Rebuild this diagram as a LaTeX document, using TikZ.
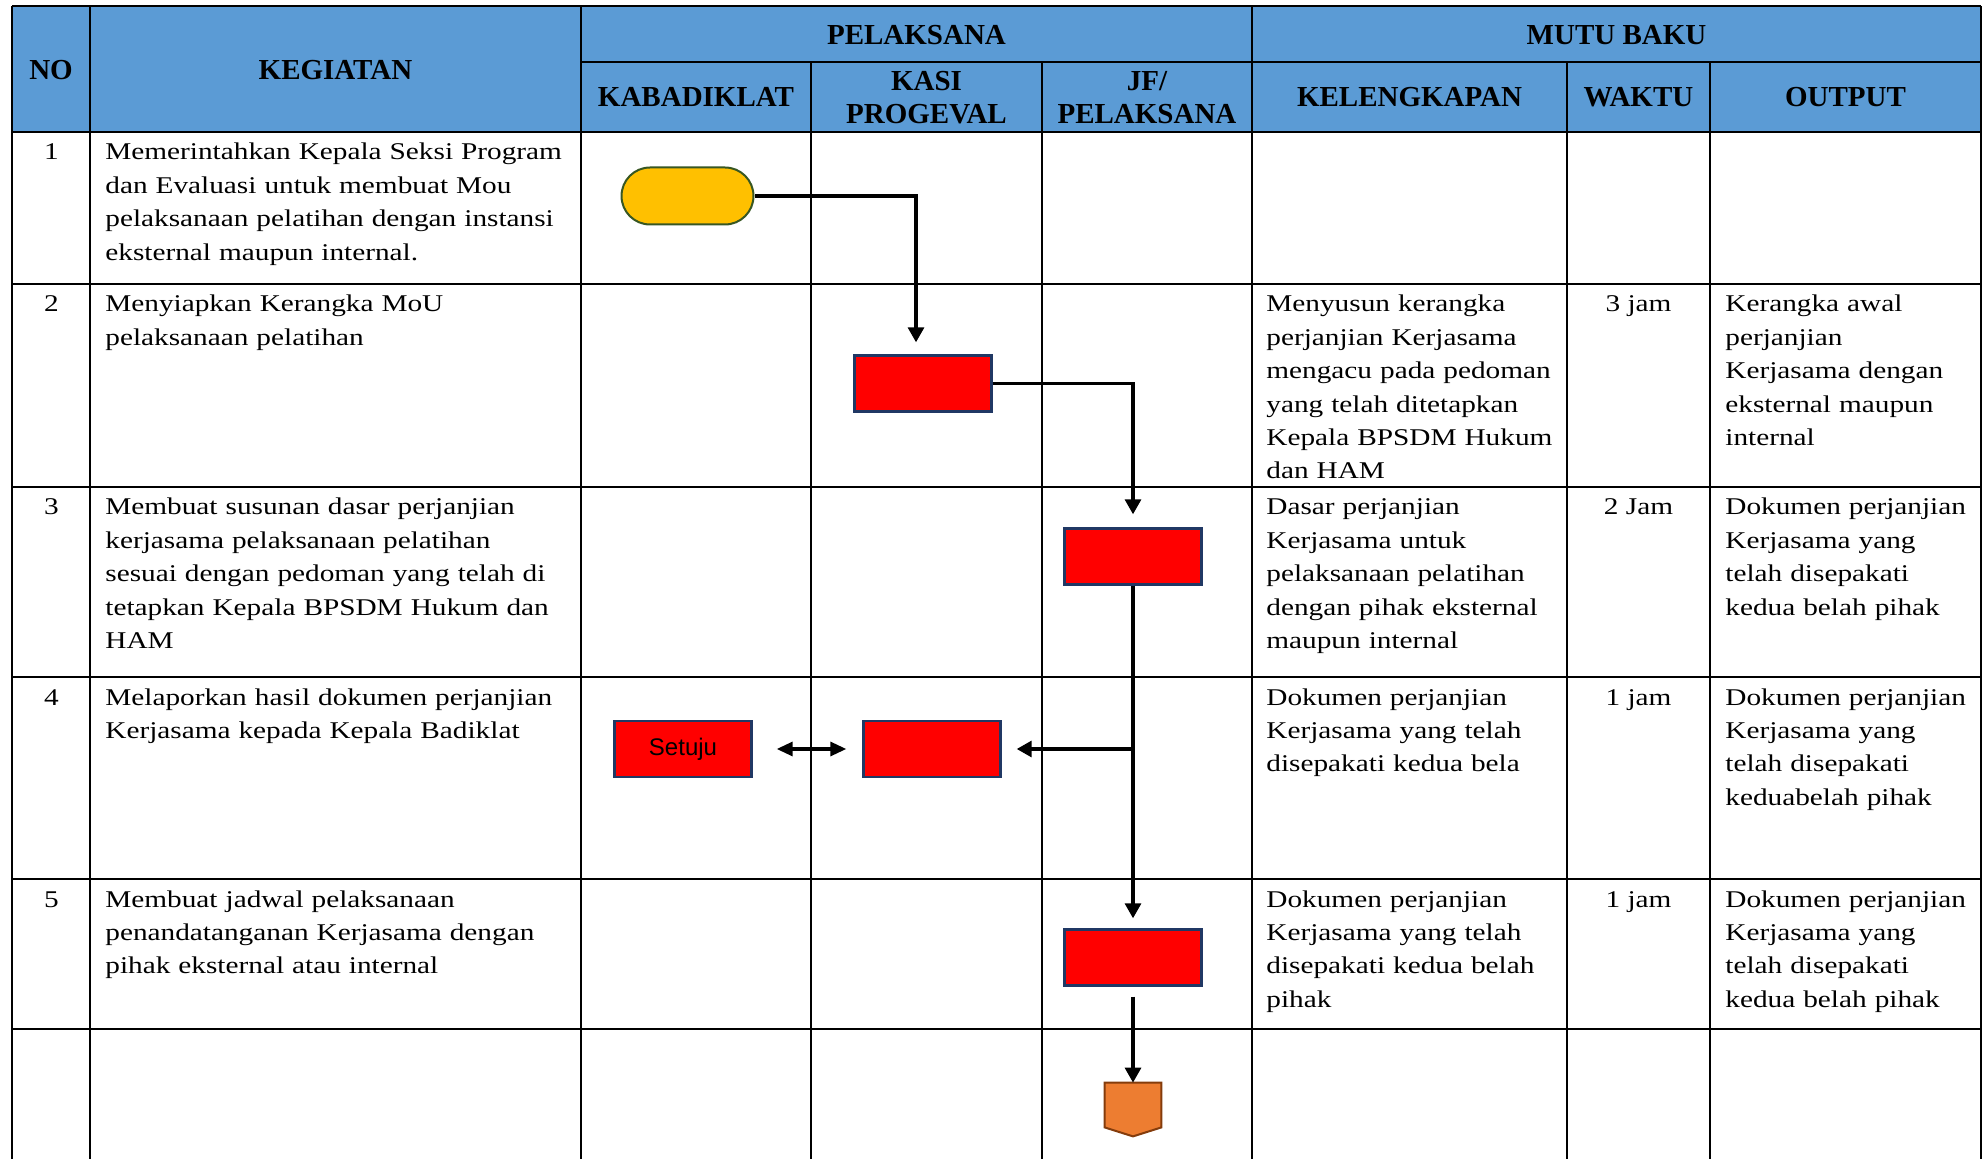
\documentclass[tikz,border=0pt]{standalone}
\usepackage{fontspec}
\setmainfont{Liberation Serif}[FakeStretch=1.22]
\newfontfamily\headfont{Liberation Serif}
\newfontfamily\boxfont{Liberation Sans}
\usetikzlibrary{arrows.meta,shapes,positioning,calc}

\definecolor{headBlue}{HTML}{5B9BD5}
\definecolor{startYellow}{HTML}{FFC000}
\definecolor{startGreen}{HTML}{385723}
\definecolor{boxNavy}{HTML}{203864}
\definecolor{endOrange}{HTML}{ED7D31}
\definecolor{endBrown}{HTML}{843C0C}

\begin{document}
\begin{tikzpicture}[x=0.5pt,y=-0.5pt,
    grid/.style={line width=1.25pt},
    head/.style={font=\headfont\bfseries\fontsize{14.5}{16.5}\selectfont,align=center,inner sep=0pt},
    cell/.style={anchor=base west,inner sep=0pt,align=left,text width=#1,font=\fontsize{12}{16.67}\selectfont},
    num/.style={anchor=base,inner sep=0pt,font=\fontsize{12}{16.67}\selectfont},
    proc/.style={draw=boxNavy,line width=1.2pt,fill=red,minimum width=68.5pt,minimum height=28pt,inner sep=0pt},
    terminal/.style={rounded rectangle,draw=startGreen,line width=1pt,fill=startYellow,minimum width=66pt,minimum height=28.5pt,inner sep=0pt},
    flow/.style={line width=1.6pt,-{Triangle[length=7.5pt,width=8pt]}}]
    \useasboundingbox (0,0) rectangle (1985,1159);

    % header
    \fill[headBlue] (12,6) rectangle (1981,132);
    \node[head] (noHead) at (51,70) {NO};
    \node[head] (kegiatanHead) at (335.5,70) {KEGIATAN};
    \node[head] (pelaksanaHead) at (916.5,35) {PELAKSANA};
    \node[head] (mutuHead) at (1616.5,35) {MUTU BAKU};
    \node[head] (kabadiklatHead) at (696,97) {KABADIKLAT};
    \node[head] (kasiHead) at (926.5,98) {KASI\\PROGEVAL};
    \node[head] (jfHead) at (1147,98) {JF/\\PELAKSANA};
    \node[head] (kelengkapanHead) at (1409.5,97) {KELENGKAPAN};
    \node[head] (waktuHead) at (1638.5,97) {WAKTU};
    \node[head] (outputHead) at (1845.5,97) {OUTPUT};

    % grid
    \draw[grid] (12,6) -- (1981,6);
    \draw[grid] (581,62) -- (1981,62);
    \draw[grid] (12,132) -- (1981,132);
    \draw[grid] (12,284) -- (1981,284);
    \draw[grid] (12,487) -- (1981,487);
    \draw[grid] (12,677) -- (1981,677);
    \draw[grid] (12,879) -- (1981,879);
    \draw[grid] (12,1029) -- (1981,1029);
    \draw[grid] (12,6) -- (12,1159);
    \draw[grid] (90,6) -- (90,1159);
    \draw[grid] (581,6) -- (581,1159);
    \draw[grid] (811,62) -- (811,1159);
    \draw[grid] (1042,62) -- (1042,1159);
    \draw[grid] (1252,6) -- (1252,1159);
    \draw[grid] (1567,62) -- (1567,1159);
    \draw[grid] (1710,62) -- (1710,1159);
    \draw[grid] (1981,6) -- (1981,1159);

    % row 1
    \node[num] (noA) at (51.5,160) {1};
    \node[cell=235pt] (kegiatanA) at (105,160) {Memerintahkan Kepala Seksi Program\\dan Evaluasi untuk membuat Mou\\pelaksanaan pelatihan dengan instansi\\eksternal maupun internal.};

    % row 2
    \node[num] (noB) at (51.5,312) {2};
    \node[cell=235pt] (kegiatanB) at (105,312) {Menyiapkan Kerangka MoU\\pelaksanaan pelatihan};
    \node[cell=150pt] (kelengkapanB) at (1266,312) {Menyusun kerangka\\perjanjian Kerjasama\\mengacu pada pedoman\\yang telah ditetapkan\\Kepala BPSDM Hukum\\dan HAM};
    \node[num] (waktuB) at (1638.5,312) {3 jam};
    \node[cell=127pt] (outputB) at (1725,312) {Kerangka awal\\perjanjian\\Kerjasama dengan\\eksternal maupun\\internal};

    % row 3
    \node[num] (noC) at (51.5,515) {3};
    \node[cell=235pt] (kegiatanC) at (105,515) {Membuat susunan dasar perjanjian\\kerjasama pelaksanaan pelatihan\\sesuai dengan pedoman yang telah di\\tetapkan Kepala BPSDM Hukum dan\\HAM};
    \node[cell=150pt] (kelengkapanC) at (1266,515) {Dasar perjanjian\\Kerjasama untuk\\pelaksanaan pelatihan\\dengan pihak eksternal\\maupun internal};
    \node[num] (waktuC) at (1638.5,515) {2 Jam};
    \node[cell=127pt] (outputC) at (1725,515) {Dokumen perjanjian\\Kerjasama yang\\telah disepakati\\kedua belah pihak};

    % row 4
    \node[num] (noD) at (51.5,705) {4};
    \node[cell=235pt] (kegiatanD) at (105,705) {Melaporkan hasil dokumen perjanjian\\Kerjasama kepada Kepala Badiklat};
    \node[cell=150pt] (kelengkapanD) at (1266,705) {Dokumen perjanjian\\Kerjasama yang telah\\disepakati kedua bela};
    \node[num] (waktuD) at (1638.5,705) {1 jam};
    \node[cell=127pt] (outputD) at (1725,705) {Dokumen perjanjian\\Kerjasama yang\\telah disepakati\\keduabelah pihak};

    % row 5
    \node[num] (noE) at (51.5,907) {5};
    \node[cell=235pt] (kegiatanE) at (105,907) {Membuat jadwal pelaksanaan\\penandatanganan Kerjasama dengan\\pihak eksternal atau internal};
    \node[cell=150pt] (kelengkapanE) at (1266,907) {Dokumen perjanjian\\Kerjasama yang telah\\disepakati kedua belah\\pihak};
    \node[num] (waktuE) at (1638.5,907) {1 jam};
    \node[cell=127pt] (outputE) at (1725,907) {Dokumen perjanjian\\Kerjasama yang\\telah disepakati\\kedua belah pihak};

    % flow
    \node[terminal] (startNode) at (687.5,196) {};
    \node[proc] (kerangkaNode) at (923,383.5) {};
    \node[proc] (dasarNode) at (1133,556.5) {};
    \node[proc,font=\boxfont\fontsize{12}{14}\selectfont] (setujuNode) at (683,749) {Setuju};
    \node[proc] (laporNode) at (932,749) {};
    \node[proc] (jadwalNode) at (1133,957.5) {};
    \node[minimum width=28pt,minimum height=22pt,inner sep=0pt] (selesaiNode) at (1133,1105) {};
    \draw[fill=endOrange,draw=endBrown,line width=1pt] (selesaiNode.north west) -- (selesaiNode.north east) -- (selesaiNode.south east) -- ([yshift=-4.5pt]selesaiNode.south) -- (selesaiNode.south west) -- cycle;

    \draw[flow,shorten >=6pt] (startNode.east) -| ([xshift=-3.5pt]kerangkaNode.north);
    \draw[flow,shorten >=6.5pt] (kerangkaNode.east) -| (dasarNode.north);
    \draw[flow,shorten >=5pt] (dasarNode.south) -- (jadwalNode.north);
    \draw[flow,shorten >=7.5pt] (dasarNode.south) |- (laporNode.east);
    \draw[flow,{Triangle[length=8pt,width=7pt]}-{Triangle[length=8pt,width=7pt]},shorten <=12pt,shorten >=8pt] (setujuNode.east) -- (laporNode.west);
    \draw[flow,shorten <=5pt] (jadwalNode.south) -- (selesaiNode.north);

\end{tikzpicture}
\end{document}
